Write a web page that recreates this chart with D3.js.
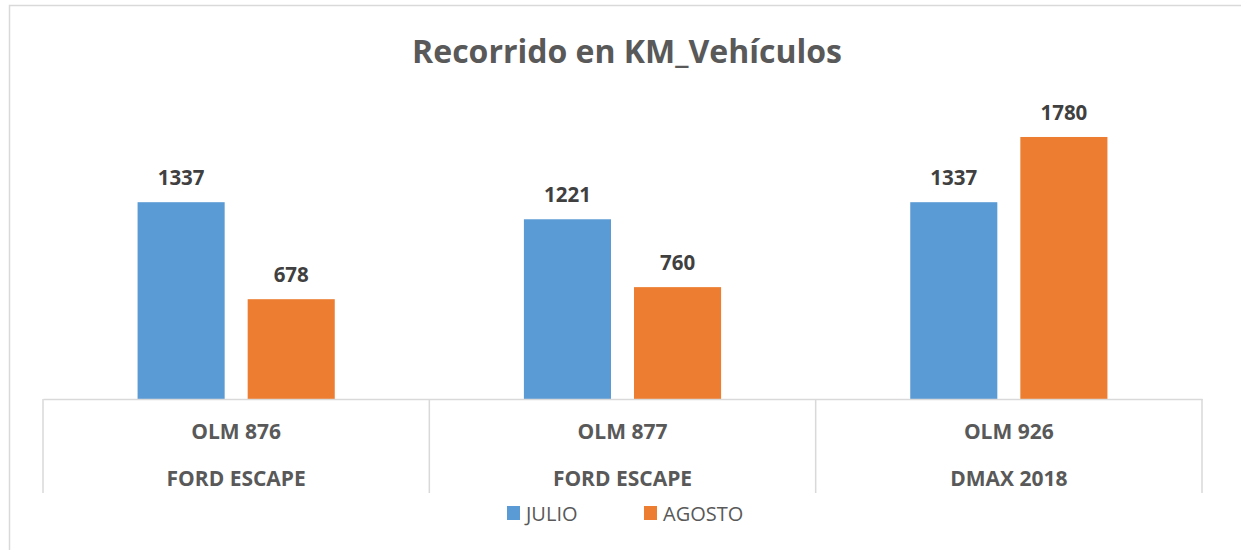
<!DOCTYPE html>
<html><head><meta charset="utf-8">
<script src="https://cdn.jsdelivr.net/npm/d3@7"></script>
<style>
html,body{margin:0;padding:0;background:#fff;}
text{font-family:"Open Sans",sans-serif;}
</style></head>
<body>
<svg id="chart" width="1241" height="550"></svg>
<script>
const title = "Recorrido en KM_Vehículos";
const plates = ["OLM 876", "OLM 877", "OLM 926"];
const models = ["FORD ESCAPE", "FORD ESCAPE", "DMAX 2018"];
const seriesNames = ["JULIO", "AGOSTO"];
const julio = [1337, 1221, 1337];
const agosto = [678, 760, 1780];
const colors = ["#5B9BD5", "#ED7D31"];

const svg = d3.select("#chart");
const W = 1241, H = 550;
const margin = {left: 43, right: 39, top: 104.6, bottom: 151};
const plotBottom = H - margin.bottom; // 399

// outer frame
svg.append("rect").attr("x", 9.5).attr("y", 5.5).attr("width", W + 20).attr("height", H + 20)
  .attr("fill", "#fff").attr("stroke", "#D9D9D9").attr("stroke-width", 1.5);

svg.append("text").attr("x", 627).attr("y", 63).attr("text-anchor", "middle")
  .attr("font-weight", "bold").attr("font-size", 32).attr("fill", "#595959").text(title);

const x0 = d3.scaleBand().domain(plates.map((p, i) => i)).range([margin.left, W - margin.right]).paddingInner(0).paddingOuter(0);
const x1 = d3.scaleBand().domain([0, 1]).range([0, x0.bandwidth()]).paddingInner(0.209).paddingOuter(0.859);
const y = d3.scaleLinear().domain([0, 2000]).range([plotBottom, margin.top]);

const data = plates.map((p, i) => ({i, vals: [julio[i], agosto[i]]}));

const g = svg.append("g");
const groups = g.selectAll("g.grp").data(data).enter().append("g")
  .attr("transform", d => `translate(${x0(d.i)},0)`);
groups.selectAll("rect").data(d => d.vals.map((v, s) => ({v, s}))).enter().append("rect")
  .attr("x", d => x1(d.s)).attr("width", x1.bandwidth())
  .attr("y", d => y(d.v)).attr("height", d => y(0) - y(d.v))
  .attr("fill", d => colors[d.s]);
groups.selectAll("text.val").data(d => d.vals.map((v, s) => ({v, s}))).enter().append("text")
  .attr("class", "val")
  .attr("x", d => x1(d.s) + x1.bandwidth() / 2).attr("y", d => y(d.v) - 17)
  .attr("text-anchor", "middle").attr("font-weight", "bold").attr("font-size", 20.5)
  .attr("fill", "#404040").text(d => d.v);

// axis with category dividers
const axis = d3.axisBottom(x0).tickSize(0).tickFormat(() => "");
const ag = svg.append("g").attr("transform", `translate(0,${plotBottom})`).call(axis);
ag.select(".domain").attr("stroke", "#D9D9D9").attr("stroke-width", 1.5);
const bounds = [...plates.map((p, i) => x0(i)), x0(plates.length - 1) + x0.bandwidth()];
ag.selectAll("line.div").data(bounds).enter().append("line").attr("class", "div")
  .attr("x1", d => d).attr("x2", d => d).attr("y1", 0).attr("y2", 94)
  .attr("stroke", "#D9D9D9").attr("stroke-width", 1.5);
ag.selectAll("text.plate").data(plates).enter().append("text").attr("class", "plate")
  .attr("x", (d, i) => x0(i) + x0.bandwidth() / 2).attr("y", 40)
  .attr("text-anchor", "middle").attr("font-weight", "bold").attr("font-size", 21)
  .attr("fill", "#595959").text(d => d);
ag.selectAll("text.model").data(models).enter().append("text").attr("class", "model")
  .attr("x", (d, i) => x0(i) + x0.bandwidth() / 2).attr("y", 87)
  .attr("text-anchor", "middle").attr("font-weight", "bold").attr("font-size", 21)
  .attr("fill", "#595959").text(d => d);

// legend
const legX = [507, 644];
const lg = svg.append("g");
seriesNames.forEach((n, i) => {
  lg.append("rect").attr("x", legX[i]).attr("y", 506).attr("width", 13).attr("height", 14).attr("fill", colors[i]);
  lg.append("text").attr("x", legX[i] + 19).attr("y", 521).attr("font-size", 20)
    .attr("fill", "#595959").text(n);
});
</script>
</body></html>
